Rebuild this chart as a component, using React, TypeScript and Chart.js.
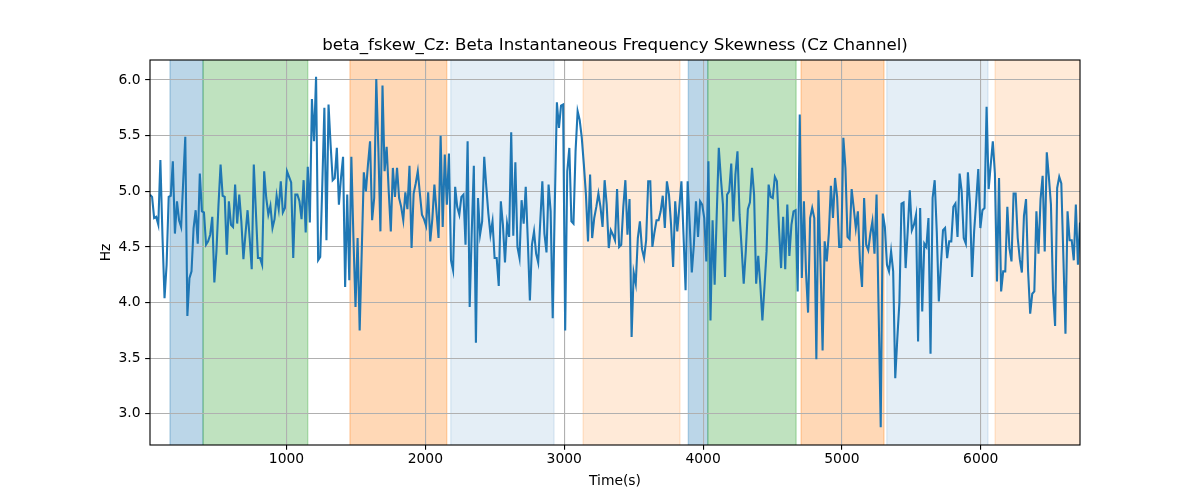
import { useEffect, useRef } from 'react';
import { Chart, registerables } from 'chart.js';

Chart.register(...registerables);

// Sample timing (first sample and spacing, seconds)
const T0_S = 17;
const DT_S = 14.95;

// Beta instantaneous frequency skewness, Cz channel (Hz)
const fskewHz = [
  // 0 - 1100 s
  4.97, 4.95, 4.76, 4.77, 4.70, 5.28, 4.60, 4.04, 4.34, 4.95,
  4.96, 5.27, 4.62, 4.91, 4.74, 4.68, 5.09, 5.49, 3.88, 4.22,
  4.28, 4.67, 4.83, 4.53, 5.16, 4.82, 4.81, 4.52, 4.55, 4.61,
  4.77, 4.18, 4.46, 4.88, 5.24, 4.96, 4.95, 4.43, 4.91, 4.70,
  4.68, 5.06, 4.71, 4.97, 4.73, 4.39, 4.62, 4.83, 4.58, 4.30,
  5.24, 4.82, 4.40, 4.40, 4.34, 5.18,
  // ~ 850 - 1650 s
  4.94, 4.79, 4.87, 4.67, 4.75, 4.96, 4.84, 5.09, 4.81, 4.85,
  5.18, 5.13, 5.08, 4.40, 4.97, 4.97, 4.91, 4.75, 5.10, 4.63,
  5.22, 4.72, 5.83, 5.45, 6.03, 4.38, 4.41, 5.06, 5.75, 4.56,
  5.78, 5.42, 5.10, 5.12, 5.39, 4.88, 5.12, 5.31, 4.14, 4.97,
  4.20, 5.31, 4.58, 3.96, 4.58, 3.75, 4.46, 5.17, 5.00, 5.24,
  5.45, 4.74, 4.94, 6.01, 5.39, 4.64,
  // ~ 1650 - 2500 s
  5.95, 5.18, 5.40, 5.00, 4.64, 5.21, 4.95, 5.21, 4.94, 4.86,
  4.74, 4.99, 4.84, 5.23, 4.49, 4.98, 5.07, 5.18, 4.98, 4.79,
  4.75, 4.69, 4.99, 4.55, 4.75, 5.06, 4.82, 4.58, 5.50, 4.68,
  5.33, 4.88, 5.34, 4.38, 4.29, 5.04, 4.86, 4.79, 4.95, 4.97,
  4.52, 5.45, 3.96, 4.64, 5.23, 3.64, 4.94, 4.61, 4.73, 5.31,
  5.04, 4.80, 4.61, 4.73, 4.40, 4.40,
  // ~ 2500 - 3330 s
  4.15, 4.91, 4.70, 4.36, 4.71, 4.59, 5.53, 4.60, 5.26, 4.50,
  4.40, 4.92, 4.71, 5.04, 4.56, 4.02, 4.52, 4.64, 4.44, 4.36,
  4.73, 5.09, 4.62, 4.45, 5.06, 4.82, 3.86, 4.88, 5.80, 5.57,
  5.77, 5.78, 3.75, 5.18, 5.39, 4.73, 4.71, 5.36, 5.72, 5.64,
  5.48, 5.24, 4.97, 4.55, 5.15, 4.58, 4.76, 4.86, 4.98, 4.86,
  4.68, 5.10, 4.88, 4.49, 4.65,
  // ~ 3330 - 4170 s
  4.61, 4.56, 5.02, 4.50, 4.52, 4.86, 5.10, 4.61, 4.93, 3.69,
  4.27, 4.17, 4.58, 4.73, 4.48, 4.40, 4.56, 5.09, 5.09, 4.50,
  4.63, 4.74, 4.74, 4.82, 4.96, 4.67, 5.09, 4.97, 4.70, 4.32,
  4.91, 4.64, 4.86, 5.09, 4.61, 4.11, 5.09, 4.70, 4.27, 4.52,
  4.91, 4.59, 4.91, 4.88, 4.76, 4.37, 5.27, 3.84, 4.74, 4.16,
  4.79, 5.39, 5.12, 4.88, 4.23, 4.97,
  // ~ 4170 - 5010 s
  5.00, 5.25, 4.73, 5.15, 5.36, 4.79, 4.49, 4.17, 4.46, 4.84,
  4.90, 5.21, 4.97, 4.17, 4.42, 4.16, 3.84, 4.14, 4.46, 5.06,
  4.95, 4.94, 5.13, 5.09, 4.67, 4.31, 4.77, 4.30, 4.88, 4.42,
  4.70, 4.82, 4.83, 4.10, 5.69, 4.22, 4.91, 4.28, 3.91, 4.76,
  4.85, 4.76, 3.49, 5.01, 4.34, 3.57, 4.55, 4.37, 4.62, 5.05,
  4.76, 5.12, 4.95, 4.50, 4.50, 5.48,
  // ~ 5010 - 5850 s
  5.21, 4.59, 4.57, 5.02, 4.85, 4.67, 4.82, 4.37, 4.14, 4.94,
  4.52, 4.47, 4.62, 4.73, 4.44, 4.97, 3.92, 2.88, 4.80, 4.68,
  4.34, 4.28, 4.46, 4.28, 3.32, 3.68, 4.00, 4.89, 4.90, 4.31,
  4.64, 5.01, 4.65, 4.70, 4.79, 3.65, 4.85, 3.92, 4.53, 4.50,
  4.76, 3.54, 4.94, 5.10, 4.64, 4.01, 4.34, 4.65, 4.67, 4.40,
  4.55, 4.55, 4.86, 4.89, 4.59, 5.16,
  // ~ 5850 - 6715 s
  5.00, 4.58, 4.53, 5.17, 4.88, 4.23, 4.64, 4.91, 5.20, 4.67,
  4.83, 4.85, 5.76, 5.02, 5.24, 5.45, 5.16, 4.19, 5.12, 4.10,
  4.28, 4.28, 4.86, 4.49, 4.37, 4.98, 4.98, 4.58, 4.39, 4.27,
  4.78, 4.93, 4.28, 3.90, 4.08, 4.10, 4.82, 4.44, 4.93, 5.14,
  4.46, 5.35, 5.13, 4.88, 4.11, 3.79, 5.03, 5.13, 5.07, 4.40,
  3.72, 4.82, 4.56, 4.56, 4.38, 4.88, 4.34, 4.72,
];

const timesS = fskewHz.map((_, i) => T0_S + i * DT_S);

// Shaded epochs (seconds)
const spanStartS = [161, 399, 1457, 2183, 3136, 3894, 4034, 4706, 5323, 6103];
const spanEndS = [399, 1153, 2154, 2927, 3834, 4034, 4670, 5303, 6052, 6730];
const spanKind = ['blue', 'green', 'orange', 'paleBlue', 'paleOrange', 'blue', 'green', 'orange', 'paleBlue', 'paleOrange'];

// Axis limits and tick spacing
const Y_MIN = 2.72;
const Y_MAX = 6.18;
const X_MAX_TICKS = 8; // gives 1000 s spacing
const Y_TICK_STEP = 0.5;

const TITLE = 'beta_fskew_Cz: Beta Instantaneous Frequency Skewness (Cz Channel)';
const X_LABEL = 'Time(s)';
const Y_LABEL = 'Hz';

const spanFill: Record<string, string> = {
  blue: 'rgba(31, 119, 180, 0.3)',
  green: 'rgba(44, 160, 44, 0.3)',
  orange: 'rgba(255, 127, 14, 0.3)',
  paleBlue: 'rgba(31, 119, 180, 0.12)',
  paleOrange: 'rgba(255, 127, 14, 0.16)',
};

const FONT = 'DejaVu Sans';
const PT = 100 / 72;

const spanPlugin = {
  id: 'spans',
  beforeDraw(chart: Chart) {
    const { ctx, chartArea: a } = chart;
    const x = chart.scales.x;
    ctx.save();
    ctx.beginPath();
    ctx.rect(a.left, a.top, a.right - a.left, a.bottom - a.top);
    ctx.clip();
    spanStartS.forEach((start, i) => {
      const x0 = x.getPixelForValue(start);
      const x1 = x.getPixelForValue(spanEndS[i]);
      const color = spanFill[spanKind[i]];
      ctx.fillStyle = color;
      ctx.fillRect(x0, a.top, x1 - x0, a.bottom - a.top);
      ctx.strokeStyle = color;
      ctx.lineWidth = 1 * PT;
      ctx.beginPath();
      ctx.moveTo(x0, a.top);
      ctx.lineTo(x0, a.bottom);
      ctx.moveTo(x1, a.top);
      ctx.lineTo(x1, a.bottom);
      ctx.stroke();
    });
    ctx.restore();
  },
};

const framePlugin = {
  id: 'frame',
  afterDatasetsDraw(chart: Chart) {
    const { ctx, chartArea: a } = chart;
    ctx.save();
    ctx.strokeStyle = '#000';
    ctx.lineWidth = 0.8 * PT;
    ctx.strokeRect(a.left, a.top, a.right - a.left, a.bottom - a.top);
    ctx.restore();
  },
};

const App = () => {
  const canvasRef = useRef<HTMLCanvasElement | null>(null);

  useEffect(() => {
    document.body.style.margin = '0';
    if (!canvasRef.current) return;

    const tickFont = { family: FONT, size: 10 * PT };

    const chart = new Chart(canvasRef.current, {
      type: 'line',
      data: {
        datasets: [
          {
            label: 'beta_fskew_Cz',
            data: timesS.map((t, i) => ({ x: t, y: fskewHz[i] })),
            borderColor: '#1f77b4',
            borderWidth: 1.5 * PT,
            pointRadius: 0,
            fill: false,
            tension: 0,
          },
        ],
      },
      options: {
        animation: false,
        responsive: false,
        events: [],
        layout: { padding: { left: 0, right: 120, top: 0, bottom: 0 } },
        plugins: {
          legend: { display: false },
          tooltip: { enabled: false },
          title: {
            display: true,
            text: TITLE,
            fullSize: false,
            color: '#000',
            font: { family: FONT, size: 12 * PT, weight: 'normal', lineHeight: 1.2 },
            padding: { top: 36, bottom: 4 },
          },
        },
        scales: {
          x: {
            type: 'linear',
            min: timesS[0],
            max: timesS[timesS.length - 1],
            afterFit: (s: any) => {
              s.height = 55;
            },
            border: { display: false },
            grid: {
              color: '#b0b0b0',
              lineWidth: 0.8 * PT,
              drawTicks: true,
              tickLength: 3.5 * PT,
              tickColor: '#000',
              tickWidth: 0.8 * PT,
            },
            ticks: {
              maxTicksLimit: X_MAX_TICKS,
              includeBounds: false,
              autoSkip: false,
              maxRotation: 0,
              color: '#000',
              font: tickFont,
              padding: 1,
              callback: (v: any) => String(v),
            },
            title: {
              display: true,
              text: X_LABEL,
              color: '#000',
              font: tickFont,
              padding: { top: 0, bottom: 10.7 },
            },
          },
          y: {
            type: 'linear',
            min: Y_MIN,
            max: Y_MAX,
            afterFit: (s: any) => {
              s.width = 150;
            },
            border: { display: false },
            grid: {
              color: '#b0b0b0',
              lineWidth: 0.8 * PT,
              drawTicks: true,
              tickLength: 3.5 * PT,
              tickColor: '#000',
              tickWidth: 0.8 * PT,
            },
            ticks: {
              stepSize: Y_TICK_STEP,
              includeBounds: false,
              color: '#000',
              font: tickFont,
              padding: 4.6,
              callback: (v: any) => Number(v).toFixed(1),
            },
            title: {
              display: true,
              text: Y_LABEL,
              color: '#000',
              font: tickFont,
              padding: { top: 97.7, bottom: 0 },
            },
          },
        },
      },
      plugins: [spanPlugin, framePlugin],
    } as any);

    return () => {
      chart.destroy();
    };
  }, []);

  return (
    <div style={{ width: 1200, height: 500, background: '#fff' }}>
      <canvas ref={canvasRef} width={1200} height={500} style={{ display: 'block' }} />
    </div>
  );
};

export default App;
